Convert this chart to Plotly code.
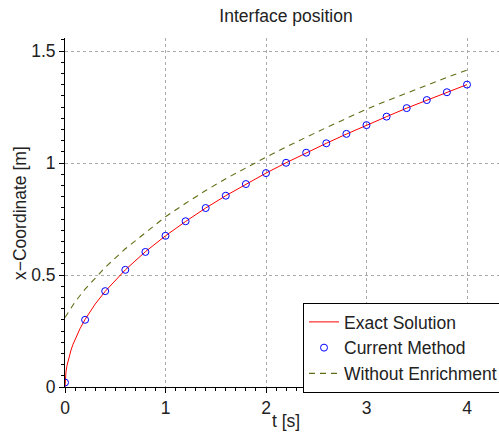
import plotly.graph_objects as go

# Exact solution
t_exact = [0, 0.005, 0.01, 0.02, 0.04, 0.06, 0.08, 0.1, 0.15, 0.2, 0.3, 0.4, 0.5, 0.6, 0.8,
           1.0, 1.2, 1.4, 1.6, 1.8, 2.0, 2.2, 2.4, 2.6, 2.8, 3.0, 3.2, 3.4, 3.6, 3.8, 4.0]
x_exact = [0, 0.048, 0.068, 0.096, 0.135, 0.165, 0.191, 0.213, 0.261, 0.302, 0.370, 0.427, 0.477,
           0.523, 0.604, 0.675, 0.739, 0.799, 0.854, 0.906, 0.955, 1.001, 1.046, 1.088, 1.129,
           1.169, 1.207, 1.245, 1.281, 1.316, 1.350]

# Current method (markers)
t_current = [0, 0.2, 0.4, 0.6, 0.8, 1.0, 1.2, 1.4, 1.6, 1.8, 2.0, 2.2, 2.4, 2.6, 2.8, 3.0,
             3.2, 3.4, 3.6, 3.8, 4.0]
x_current = [0.02, 0.300, 0.428, 0.523, 0.603, 0.675, 0.740, 0.799, 0.854, 0.906, 0.955, 1.001,
             1.046, 1.088, 1.130, 1.169, 1.207, 1.245, 1.281, 1.316, 1.350]

# Without enrichment (dashed)
t_noenr = [0, 0.1, 0.2, 0.4, 0.6, 0.8, 1.0, 1.2, 1.4, 1.6, 1.8, 2.0, 2.2, 2.4, 2.6, 2.8, 3.0,
           3.2, 3.4, 3.6, 3.8, 4.0]
x_noenr = [0.31, 0.38, 0.437, 0.534, 0.617, 0.690, 0.760, 0.820, 0.877, 0.930, 0.979, 1.026,
           1.072, 1.116, 1.158, 1.199, 1.240, 1.277, 1.313, 1.348, 1.382, 1.415]

x_ticks = [0, 1, 2, 3, 4]
y_ticks = [0, 0.5, 1, 1.5]
y_tick_labels = ["0", "0.5", "1", "1.5"]

FONT = "Liberation Sans, Arial, sans-serif"
FS = 17.5
W, H = 499, 434
L, R, T, B = 65, 0, 38, 47

fig = go.Figure()
fig.add_trace(go.Scatter(x=t_exact, y=x_exact, mode="lines", name="Exact Solution",
                         line=dict(color="#ff0000", width=1)))
fig.add_trace(go.Scatter(x=t_current, y=x_current, mode="markers", name="Current Method",
                         marker=dict(symbol="circle-open", size=7, color="#0000ff",
                                     line=dict(width=1, color="#0000ff"))))
fig.add_trace(go.Scatter(x=t_noenr, y=x_noenr, mode="lines", name="Without Enrichment",
                         line=dict(color="#5f6e14", width=1.1, dash="6px,5px")))

axis_common = dict(showline=True, linecolor="black", linewidth=1, ticks="outside",
                   ticklen=5, tickcolor="black", mirror=False, zeroline=False,
                   showgrid=True, gridcolor="#aaaaaa", griddash="dot", gridwidth=1,
                   tickfont=dict(family=FONT, size=FS, color="#222"))

fig.update_xaxes(range=[0, (W - L - R) / 100.5], tickvals=x_ticks, **axis_common,
                 minor=dict(dtick=0.1, ticks="outside", ticklen=3, tickcolor="black", showgrid=False))
fig.update_yaxes(range=[0, (H - T - B) / 224.0], tickvals=y_ticks, ticktext=y_tick_labels,
                 **axis_common,
                 minor=dict(dtick=0.05, ticks="outside", ticklen=3, tickcolor="black", showgrid=False))

pw = W - L - R
ph = H - T - B
fig.update_layout(
    width=W, height=H,
    margin=dict(l=L, r=R, t=T, b=B, pad=0, autoexpand=False),
    paper_bgcolor="white", plot_bgcolor="white",
    font=dict(family=FONT, size=FS, color="#222"),
    title=dict(text="Interface position", x=286 / W, xanchor="center",
               y=1 - 16 / H, yanchor="middle", font=dict(family=FONT, size=FS, color="#222")),
    showlegend=True,
    legend=dict(x=(303 - L) / pw, y=(H - B - 348) / ph, xanchor="left", yanchor="middle",
                bgcolor="white", bordercolor="black", borderwidth=1,
                font=dict(family=FONT, size=FS, color="#222"),
                tracegroupgap=0, itemwidth=30),
    annotations=[
        dict(text="t [s]", xref="paper", yref="paper", x=(286 - L) / pw, y=-(421 - (H - B)) / ph,
             xanchor="center", yanchor="middle", showarrow=False,
             font=dict(family=FONT, size=FS, color="#222")),
        dict(text="x\u2212Coordinate [m]", xref="paper", yref="paper", x=(20 - L) / pw,
             y=(H - B - 213) / ph, xanchor="center", yanchor="middle", textangle=-90,
             showarrow=False, font=dict(family=FONT, size=FS, color="#222")),
    ],
)

fig.write_html("out.html")
